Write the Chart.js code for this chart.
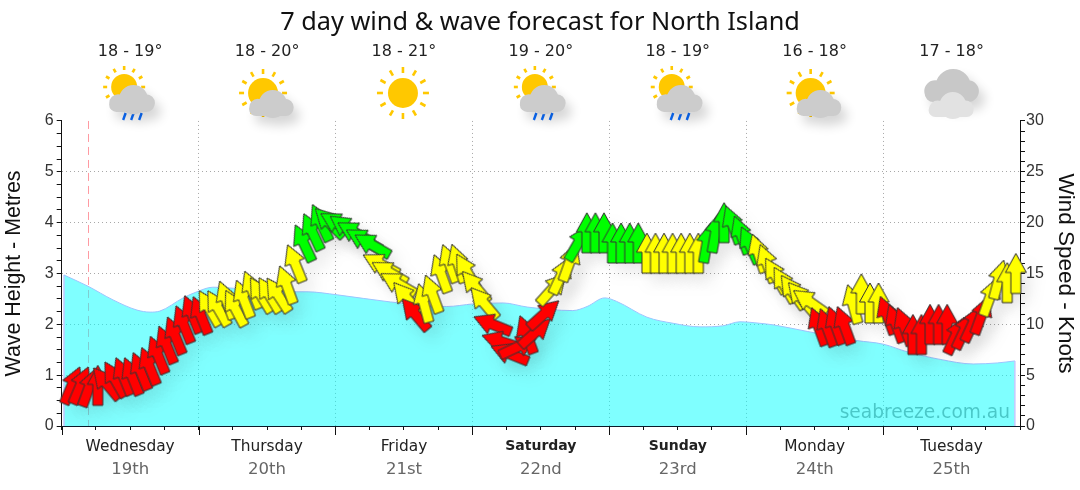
<!DOCTYPE html>
<html>
<head>
<meta charset="utf-8">
<title>7 day wind & wave forecast for North Island</title>
<script src="https://cdn.jsdelivr.net/npm/chart.js@4"></script>
<style>
  html, body { margin: 0; padding: 0; background: #fff; }
  canvas { display: block; }
</style>
</head>
<body>
<canvas id="forecast" width="1080" height="490"></canvas>
<script>
var titleFont = '"Noto Sans", sans-serif';
var labelFont = '"DejaVu Sans", sans-serif';
var axisFont = '"Liberation Sans", Arial, sans-serif';

var dayNames = ['Wednesday', 'Thursday', 'Friday', 'Saturday', 'Sunday', 'Monday', 'Tuesday'];
var dayDates = ['19th', '20th', '21st', '22nd', '23rd', '24th', '25th'];
var weekendDays = ['Saturday', 'Sunday'];
var tempRanges = ['18 - 19°', '18 - 20°', '18 - 21°', '19 - 20°', '18 - 19°', '16 - 18°', '17 - 18°'];
var weatherIcons = ['sunrain', 'suncloud', 'sun', 'sunrain', 'sunrain', 'suncloud', 'cloud'];
var nowHour = 4.6;

// hours since the start of Wednesday
var waveHours = [0.4, 4.6, 9.0, 13.2, 15.5, 17.2, 21.3, 23.7, 26.5, 31.3, 40.5, 43.0, 48.3, 57.6, 67.5, 72.1, 77.4,
  81.6, 89.6, 92.1, 95.2, 97.3, 102.6, 107.2, 111.9, 115.9, 118.9, 122.4, 124.7, 130.7, 139.4, 144.0, 148.2,
  154.0, 159.8, 164.0, 167.1];
var waveHeight = [2.97, 2.75, 2.48, 2.28, 2.24, 2.26, 2.52, 2.64, 2.73, 2.70, 2.64, 2.64, 2.58, 2.44, 2.35, 2.40, 2.42,
  2.34, 2.27, 2.35, 2.52, 2.45, 2.14, 2.02, 1.95, 1.97, 2.05, 2.02, 1.99, 1.86, 1.68, 1.61, 1.46,
  1.31, 1.22, 1.24, 1.28];

var windHours = [1.81, 3.31, 4.81, 6.32, 7.82, 9.33, 10.83, 12.34, 13.84, 15.34,
  16.85, 18.35, 19.86, 21.36, 22.87, 24.37, 25.87, 27.38, 28.88, 30.39,
  31.89, 33.39, 34.90, 36.40, 37.91, 39.41, 40.91, 42.42, 43.92, 45.43,
  46.93, 48.44, 49.94, 51.44, 52.95, 54.45, 55.96, 57.46, 58.96, 60.47,
  61.97, 63.48, 64.98, 66.49, 67.99, 69.49, 71.00, 72.50, 74.01, 75.51,
  77.02, 78.52, 80.02, 81.53, 83.03, 84.54, 86.04, 87.55, 89.05, 90.55,
  92.06, 93.56, 95.07, 96.57, 98.07, 99.58, 101.08, 102.59, 104.09, 105.60,
  107.10, 108.60, 110.11, 111.61, 113.12, 114.62, 116.13, 117.63, 119.13, 120.64,
  122.14, 123.65, 125.15, 126.65, 128.16, 129.66, 131.17, 132.67, 134.18, 135.68,
  137.18, 138.69, 140.19, 141.70, 143.20, 144.71, 146.21, 147.71, 149.22, 150.72,
  152.23, 153.73, 155.23, 156.74, 158.24, 159.75, 161.25, 162.76, 164.26, 165.76, 167.27];
var windSpeed = [4.0, 4.0, 3.8, 4.0, 4.2, 4.6, 4.9, 4.9, 5.4, 5.9,
  7.0, 8.0, 8.9, 10.0, 11.0, 10.9, 11.6, 11.6, 12.4, 11.6,
  12.5, 13.4, 12.9, 12.9, 12.9, 13.9, 16.0, 18.0, 19.1, 20.0,
  20.0, 19.9, 19.5, 19.0, 18.3, 17.8, 15.9, 15.1, 14.0, 12.6,
  11.0, 12.1, 13.0, 15.0, 16.0, 16.0, 15.2, 13.7, 12.1, 10.0,
  8.3, 7.1, 7.8, 9.0, 9.2, 11.0, 13.5, 14.8, 16.1, 18.0,
  19.0, 19.0, 19.0, 18.0, 18.0, 18.0, 18.0, 17.0, 17.0, 17.0,
  17.0, 17.0, 17.0, 17.0, 18.0, 19.0, 20.0, 19.8, 18.8, 17.8,
  17.0, 16.0, 14.8, 13.9, 13.2, 12.6, 12.2, 9.8, 9.7, 9.9,
  9.9, 12.0, 13.0, 12.1, 12.1, 10.9, 10.1, 9.8, 9.0, 9.0,
  10.0, 10.0, 10.0, 8.9, 9.4, 10.1, 10.9, 12.7, 14.4, 14.1, 15.0];
// degrees clockwise from north, the way each arrow points
var windDirection = [23, 23, 20, 0, -40, -30, -22, -22, -22, -22,
  -22, -22, -22, -22, -22, -22, -30, -30, -20, -28,
  -21, -22, -31, -31, -33, -20, -22, -25, -25, -25,
  -45, -60, -55, -60, -60, -60, -62, -60, -60, -40,
  -40, -15, -20, -20, -20, -18, -30, -40, -40, -68,
  -72, -68, 65, -20, 48, 48, 42, 25, 20, 30,
  0, 0, 0, 0, 0, 0, 0, 0, 0, 0,
  0, 0, 0, 0, 10, 10, 0, -20, -20, -25,
  -18, -20, -30, -30, -35, -40, -55, -20, -20, -20,
  -20, -15, 0, 0, 0, -20, -20, -20, 0, 0,
  0, 0, 0, 25, 25, 25, 20, 20, 15, 0, 0];

function makePoints(hours, values) {
  return hours.map(function (h, i) { return { x: h, y: values[i] }; });
}

// one arrow picture per colour, rotated by chart.js for each point
function makeArrow(colour, outlined) {
  var c = document.createElement('canvas');
  c.width = 46;
  c.height = 46;
  var g = c.getContext('2d');
  g.translate(23, 23);
  g.beginPath();
  g.moveTo(0, -20);
  g.lineTo(10.5, -1);
  g.lineTo(5, -1);
  g.lineTo(5, 20);
  g.lineTo(-5, 20);
  g.lineTo(-5, -1);
  g.lineTo(-10.5, -1);
  g.closePath();
  g.fillStyle = colour;
  g.fill();
  if (outlined) {
    g.strokeStyle = '#333';
    g.lineWidth = 1;
    g.stroke();
  }
  return c;
}
var redArrow = makeArrow('#ff0000', true);
var yellowArrow = makeArrow('#ffff00', true);
var greenArrow = makeArrow('#00ff00', true);
var shadowArrow = makeArrow('#999999', false);

function arrowFor(ctx) {
  var v = windSpeed[ctx.dataIndex];
  if (v < 11.5) return redArrow;
  if (v < 17.5) return yellowArrow;
  return greenArrow;
}

function cloud(g, x, y, w, h, colour) {
  // x,y is the bottom left corner
  g.fillStyle = colour;
  g.beginPath();
  g.roundRect(x, y - h * 0.55, w, h * 0.55, h * 0.27);
  [[0.54, 0.46, 0.54], [0.2, 0.33, 0.33], [0.82, 0.33, 0.33]].forEach(function (b) {
    g.moveTo(x + w * b[0] + h * b[2], y - h * b[1]);
    g.arc(x + w * b[0], y - h * b[1], h * b[2], 0, Math.PI * 2);
  });
  g.fill();
}

function sun(g, x, y, r, rayIn, rayOut) {
  g.strokeStyle = '#ffc800';
  g.lineWidth = 2.6;
  for (var a = 0; a < 12; a++) {
    var t = a * Math.PI / 6;
    g.beginPath();
    g.moveTo(x + Math.cos(t) * rayIn, y + Math.sin(t) * rayIn);
    g.lineTo(x + Math.cos(t) * rayOut, y + Math.sin(t) * rayOut);
    g.stroke();
  }
  g.fillStyle = '#ffc800';
  g.beginPath();
  g.arc(x, y, r, 0, Math.PI * 2);
  g.fill();
}

function drawIcon(g, kind, cx) {
  g.save();
  g.shadowColor = 'rgba(0,0,0,0.16)';
  g.shadowBlur = 11;
  g.shadowOffsetX = 6;
  g.shadowOffsetY = 8;
  if (kind == 'sun') {
    g.shadowColor = 'transparent';
    sun(g, cx - 1, 93, 15, 20, 26);
  } else if (kind == 'suncloud') {
    g.shadowColor = 'transparent';
    sun(g, cx - 4, 93, 15, 19, 24);
    g.shadowColor = 'rgba(0,0,0,0.16)';
    cloud(g, cx - 18, 116, 44, 26, '#cccccc');
  } else if (kind == 'sunrain') {
    g.shadowColor = 'transparent';
    sun(g, cx - 6, 87, 13, 17, 21);
    g.strokeStyle = '#0a6cff';
    g.lineWidth = 2.4;
    [-6, 2, 10].forEach(function (dx) {
      g.beginPath();
      g.moveTo(cx + dx + 1.5, 113);
      g.lineTo(cx + dx - 1, 120);
      g.stroke();
    });
    g.shadowColor = 'rgba(0,0,0,0.16)';
    cloud(g, cx - 21, 112, 45, 27, '#cccccc');
  } else {
    cloud(g, cx - 27, 102, 53, 33, '#c8c8c8');
    g.shadowColor = 'transparent';
    cloud(g, cx - 23, 117, 45, 25, '#e2e2e2');
  }
  g.restore();
}

// temperatures, icons, day labels and the "now" line, placed off the x scale
var forecastExtras = {
  id: 'forecastExtras',
  beforeDatasetsDraw: function (chart) {
    var g = chart.ctx, x = chart.scales.x, area = chart.chartArea;
    g.save();
    g.strokeStyle = '#ff9aa2';
    g.lineWidth = 1;
    g.setLineDash([8, 5]);
    g.beginPath();
    g.moveTo(Math.round(x.getPixelForValue(nowHour)) + 0.5, area.top);
    g.lineTo(Math.round(x.getPixelForValue(nowHour)) + 0.5, area.bottom);
    g.stroke();
    g.restore();
  },
  beforeDatasetDraw: function (chart, args) {
    var g = chart.ctx;
    if (args.index == 0) {
      // side edges of the wave area
      var x = chart.scales.x, y = chart.scales.y;
      g.save();
      g.strokeStyle = '#c3c8ff';
      g.lineWidth = 1.5;
      [[waveHours[0], waveHeight[0]], [waveHours[waveHours.length - 1], waveHeight[waveHeight.length - 1]]].forEach(function (p) {
        g.beginPath();
        g.moveTo(x.getPixelForValue(p[0]), y.getPixelForValue(p[1]));
        g.lineTo(x.getPixelForValue(p[0]), y.getPixelForValue(0));
        g.stroke();
      });
      g.restore();
    }
    if (args.index == 1) {
      g.save();
      g.shadowColor = 'rgba(0,0,0,0.085)';
      g.shadowBlur = 16;
      g.shadowOffsetX = 8;
      g.shadowOffsetY = 10;
    }
  },
  afterDatasetDraw: function (chart, args) {
    if (args.index == 1) chart.ctx.restore();
  },
  afterDraw: function (chart) {
    var g = chart.ctx, x = chart.scales.x, area = chart.chartArea;
    g.save();
    g.textAlign = 'center';
    g.textBaseline = 'alphabetic';
    dayNames.forEach(function (name, i) {
      var cx = x.getPixelForValue(i * 24 + 12);
      g.fillStyle = '#222';
      g.font = '16px ' + labelFont;
      g.fillText(tempRanges[i], cx, 56);
      drawIcon(g, weatherIcons[i], cx);
      g.fillStyle = '#666';
      g.font = '16.5px ' + labelFont;
      g.fillText(dayDates[i], cx, 474);
      g.strokeStyle = '#111';
      g.lineWidth = 1;
      var px = Math.round(x.getPixelForValue(i * 24)) + 0.5;
      g.beginPath();
      g.moveTo(px, area.bottom);
      g.lineTo(px, area.bottom + 9);
      g.stroke();
    });
    g.fillStyle = 'rgba(0,125,125,0.42)';
    g.font = '18.6px ' + labelFont;
    g.textAlign = 'right';
    g.fillText('seabreeze.com.au', 1010, 418);
    g.restore();
  }
};

var dots = '#a8a8a8';

new Chart(document.getElementById('forecast').getContext('2d'), {
  type: 'line',
  plugins: [forecastExtras],
  data: {
    datasets: [{
      // wave height
      data: makePoints(waveHours, waveHeight),
      yAxisID: 'y',
      order: 3,
      fill: 'origin',
      backgroundColor: 'rgba(0,255,255,0.5)',
      borderColor: '#9cc4ff',
      borderWidth: 1,
      pointRadius: 0,
      cubicInterpolationMode: 'monotone'
    }, {
      // arrow shadows
      data: makePoints(windHours, windSpeed),
      yAxisID: 'y1',
      order: 2,
      showLine: false,
      clip: false,
      pointStyle: shadowArrow,
      pointRotation: windDirection,
      pointRadius: 20
    }, {
      // wind arrows
      data: makePoints(windHours, windSpeed),
      yAxisID: 'y1',
      order: 1,
      showLine: false,
      clip: false,
      pointStyle: arrowFor,
      pointRotation: windDirection,
      pointRadius: 20
    }]
  },
  options: {
    responsive: false,
    animation: false,
    events: [],
    layout: { padding: 0 },
    plugins: {
      legend: { display: false },
      tooltip: { enabled: false },
      title: {
        display: true,
        text: '7 day wind & wave forecast for North Island',
        color: '#111',
        font: { family: titleFont, size: 25.3, weight: 'normal', lineHeight: 1.2 },
        padding: { top: 8, bottom: 82.6 }
      }
    },
    scales: {
      x: {
        type: 'linear',
        min: 0,
        max: 168,
        afterFit: function (s) { s.height = 64; },
        afterBuildTicks: function (s) {
          s.ticks = [];
          for (var h = 0; h <= 168; h += 6) s.ticks.push({ value: h });
        },
        border: { color: '#0a1a2a', dash: [1, 3] },
        grid: {
          color: function (c) {
            if (!c.tick || c.tick.value == 0 || c.tick.value == 168) return 'transparent';
            return c.tick.value % 24 == 0 ? dots : 'transparent';
          },
          tickColor: '#111',
          tickLength: 4
        },
        ticks: {
          autoSkip: false,
          maxRotation: 0,
          padding: 8,
          color: '#222',
          font: function (c) {
            var name = c.tick ? dayNames[(c.tick.value - 12) / 24] : '';
            var bold = weekendDays.indexOf(name) >= 0;
            return { family: labelFont, size: bold ? 14 : 15.4, weight: bold ? 'bold' : 'normal' };
          },
          callback: function (v) { return v % 24 == 12 ? dayNames[(v - 12) / 24] : ''; }
        }
      },
      y: {
        position: 'left',
        min: 0,
        max: 6,
        afterFit: function (s) { s.width = 61.7; },
        border: { color: '#111', dash: [1, 3] },
        grid: {
          color: function (c) {
            if (!c.tick || c.tick.value == 0 || c.tick.value == 6) return 'transparent';
            return Number.isInteger(c.tick.value) ? dots : 'transparent';
          },
          tickColor: '#111',
          tickLength: 5
        },
        ticks: {
          stepSize: 0.25,
          autoSkip: false,
          padding: 3,
          color: '#333',
          font: { family: axisFont, size: 16 },
          callback: function (v) { return Number.isInteger(v) ? v : ''; }
        },
        title: {
          display: true,
          text: 'Wave Height - Metres',
          color: '#111',
          padding: { top: 1, bottom: 0 },
          font: { family: axisFont, size: 21.4 }
        }
      },
      y1: {
        position: 'right',
        min: 0,
        max: 30,
        afterFit: function (s) { s.width = 60; },
        border: { color: '#111' },
        grid: { drawOnChartArea: false, tickColor: '#111', tickLength: 5 },
        ticks: {
          stepSize: 1,
          autoSkip: false,
          padding: 1,
          color: '#333',
          font: { family: axisFont, size: 16 },
          callback: function (v) { return v % 5 == 0 ? v : ''; }
        },
        title: {
          display: true,
          text: 'Wind Speed - Knots',
          color: '#111',
          padding: { top: 1, bottom: 0 },
          font: { family: axisFont, size: 22.5 }
        }
      }
    }
  }
});
</script>
</body>
</html>
